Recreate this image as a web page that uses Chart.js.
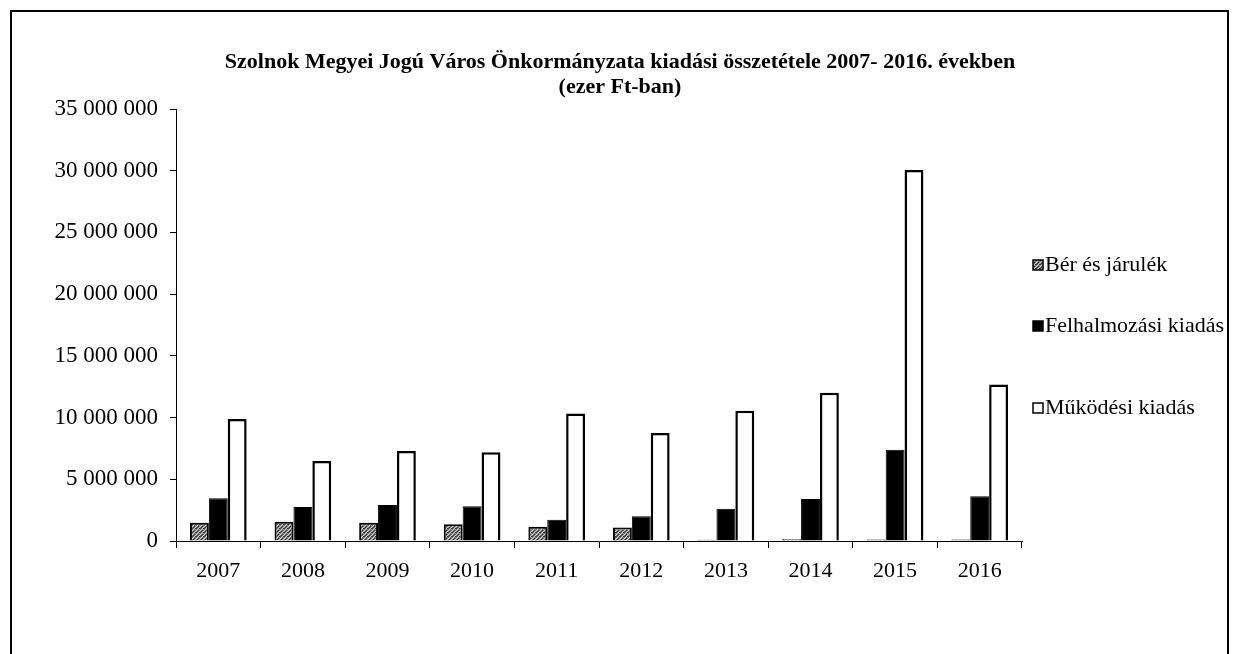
<!DOCTYPE html>
<html>
<head>
<meta charset="utf-8">
<script src="https://cdn.jsdelivr.net/npm/chart.js@4.4.0/dist/chart.umd.min.js"></script>
<style>
  html, body { margin: 0; padding: 0; background: #fff; overflow: hidden; }
  #wrap { position: relative; width: 1233px; height: 654px; }
  #frame { position: absolute; left: 10px; top: 10px; width: 1219px; height: 700px; border: 2px solid #000; box-sizing: border-box; pointer-events: none; }
  canvas { position: absolute; left: 0; top: 0; }
</style>
</head>
<body>
<div id="wrap">
  <canvas id="c" width="1233" height="654"></canvas>
  <div id="frame"></div>
</div>
<script>
const years = ['2007','2008','2009','2010','2011','2012','2013','2014','2015','2016'];
const berEsJarulek = [1480000, 1560000, 1480000, 1350000, 1160000, 1100000, 100000, 150000, 120000, 120000];
const felhalmozasi = [3460000, 2750000, 2920000, 2810000, 1730000, 2000000, 2620000, 3400000, 7400000, 3620000];
const mukodesi = [9890000, 6480000, 7290000, 7190000, 10320000, 8750000, 10560000, 12020000, 30050000, 12670000];
const seriesNames = ['Bér és járulék', 'Felhalmozási kiadás', 'Működési kiadás'];
const titleLines = ['Szolnok Megyei Jogú Város Önkormányzata kiadási összetétele 2007- 2016. években', '(ezer Ft-ban)'];
const yTicks = [0, 5000000, 10000000, 15000000, 20000000, 25000000, 30000000, 35000000];

function makePattern() {
  const p = document.createElement('canvas');
  p.width = 4; p.height = 4;
  const g = p.getContext('2d');
  g.fillStyle = '#808080'; g.fillRect(0,0,4,4);
  g.fillStyle = '#333'; g.fillRect(0,0,1,1); g.fillRect(2,2,1,1); g.fillRect(3,0,1,1); g.fillRect(1,3,1,1);
  g.fillStyle = '#cfcfcf'; g.fillRect(2,0,1,1); g.fillRect(0,2,1,1); g.fillRect(1,1,1,1); g.fillRect(3,3,1,1);
  return document.getElementById('c').getContext('2d').createPattern(p, 'repeat');
}
const pat = makePattern();

function fmt(v) { return String(v).replace(/\B(?=(\d{3})+(?!\d))/g, ' '); }

const SERIF = '"Liberation Serif", "Times New Roman", serif';

const titlePlugin = {
  id: 'titleP',
  afterDraw(chart) {
    const ctx = chart.ctx;
    ctx.save();
    ctx.fillStyle = '#000';
    ctx.font = 'bold 22px ' + SERIF;
    ctx.textAlign = 'center';
    ctx.textBaseline = 'middle';
    ctx.fillText(titleLines[0], 620, 62);
    ctx.fillText(titleLines[1], 620, 87);
    ctx.restore();
  }
};

const legendPlugin = {
  id: 'legendP',
  afterDraw(chart) {
    const ctx = chart.ctx;
    const ys = [265, 326, 408];
    ctx.save();
    ctx.font = '22px ' + SERIF;
    ctx.textBaseline = 'middle';
    ctx.textAlign = 'left';
    chart.data.datasets.forEach((ds, i) => {
      const y = ys[i];
      ctx.fillStyle = ds.backgroundColor;
      ctx.fillRect(1033, y - 5, 10, 10);
      ctx.strokeStyle = '#000';
      ctx.lineWidth = 1.5;
      ctx.strokeRect(1033, y - 5, 10, 10);
      ctx.fillStyle = '#000';
      ctx.fillText(ds.label, 1045, y);
    });
    ctx.restore();
  }
};

new Chart(document.getElementById('c'), {
  type: 'bar',
  data: {
    labels: years,
    datasets: [
      { label: seriesNames[0], data: berEsJarulek, backgroundColor: pat, borderColor: '#000', borderWidth: 2 },
      { label: seriesNames[1], data: felhalmozasi, backgroundColor: '#000', borderColor: '#000', borderWidth: 1 },
      { label: seriesNames[2], data: mukodesi, backgroundColor: '#fff', borderColor: '#000', borderWidth: 2.5 }
    ]
  },
  options: {
    responsive: false,
    animation: false,
    events: [],
    layout: { padding: { left: 0, top: 109, right: 211, bottom: 0 } },
    datasets: { bar: { categoryPercentage: 0.67, barPercentage: 1.0 } },
    plugins: { legend: { display: false }, title: { display: false }, tooltip: { enabled: false } },
    scales: {
      x: {
        grid: { display: true, drawOnChartArea: false, offset: true, tickLength: 7, color: '#000', lineWidth: 1 },
        border: { display: true, color: '#000', width: 1 },
        ticks: { color: '#000', font: { family: SERIF, size: 22 }, padding: 10, maxRotation: 0 },
        afterFit(s) { s.height = 113; }
      },
      y: {
        min: 0, max: 35000000,
        afterBuildTicks(s) { s.ticks = yTicks.map(v => ({ value: v })); },
        grid: { display: true, drawOnChartArea: false, tickLength: 6, color: '#000', lineWidth: 1 },
        border: { display: true, color: '#000', width: 1 },
        ticks: { color: '#000', font: { family: SERIF, size: 23 }, padding: 12, callback: v => fmt(v) },
        afterFit(s) { s.width = 176; }
      }
    }
  },
  plugins: [titlePlugin, legendPlugin]
});
</script>
</body>
</html>
